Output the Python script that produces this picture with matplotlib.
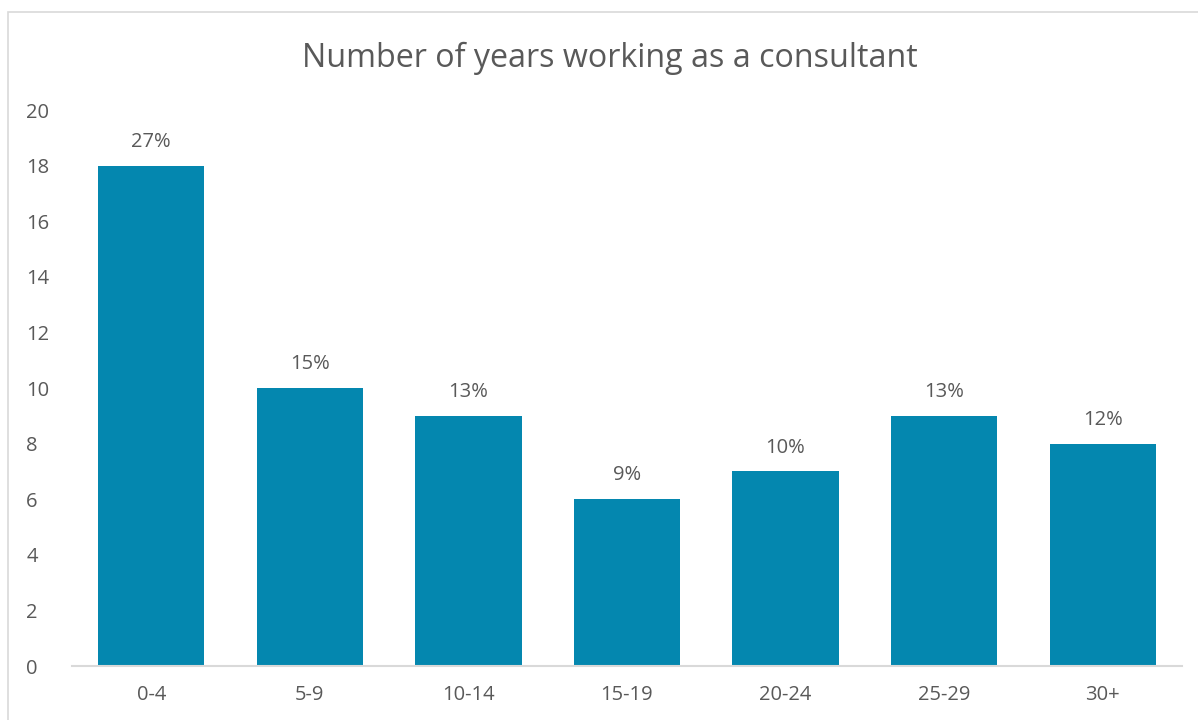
import matplotlib
matplotlib.use("Agg")
import matplotlib.pyplot as plt
from matplotlib.patches import Rectangle

# years-as-consultant buckets and respondent counts
categories = ["0-4", "5-9", "10-14", "15-19", "20-24", "25-29", "30+"]
counts = [18, 10, 9, 6, 7, 9, 8]
pct_labels = ["27%", "15%", "13%", "9%", "10%", "13%", "12%"]

bar_color = "#0487AF"
text_color = "#595959"

plt.rcParams['font.family'] = ['Open Sans', 'DejaVu Sans']

fig = plt.figure(figsize=(11.98, 7.2), dpi=100)
ax = fig.add_axes([0.0601, 0.075, 0.9265, 0.772])

# outer chart frame (runs off the right/bottom edges)
fig.patches.append(Rectangle((8 / 1198, -0.01), 1.2, 1 - 12 / 720 + 0.01,
                             transform=fig.transFigure, fill=False,
                             edgecolor="#D9D9D9", linewidth=1.2))

x = range(len(categories))
bars = ax.bar(x, counts, width=0.67, color=bar_color)
for b, lab in zip(bars, pct_labels):
    ax.text(b.get_x() + b.get_width() / 2, b.get_height() + 0.68, lab,
            ha="center", va="baseline", fontsize=14.5, color=text_color)

ax.set_xlim(-0.5, len(categories) - 0.5)
ax.set_ylim(0, 20)
ax.set_yticks(range(0, 21, 2))
ax.set_xticks(list(x))
ax.set_xticklabels(categories)
ax.tick_params(axis="both", length=0, labelsize=14.5, colors=text_color)
ax.tick_params(axis="y", pad=33)
ax.tick_params(axis="x", pad=14)
for lab in ax.get_yticklabels():
    lab.set_horizontalalignment("left")

for side in ["top", "right", "left"]:
    ax.spines[side].set_visible(False)
ax.spines["bottom"].set_color("#D9D9D9")
ax.spines["bottom"].set_linewidth(1.5)

fig.text(609.5 / 1198, 1 - 67 / 720, "Number of years working as a consultant",
         ha="center", va="baseline", fontsize=23.2, color=text_color)

fig.savefig("out.png", dpi=100)
